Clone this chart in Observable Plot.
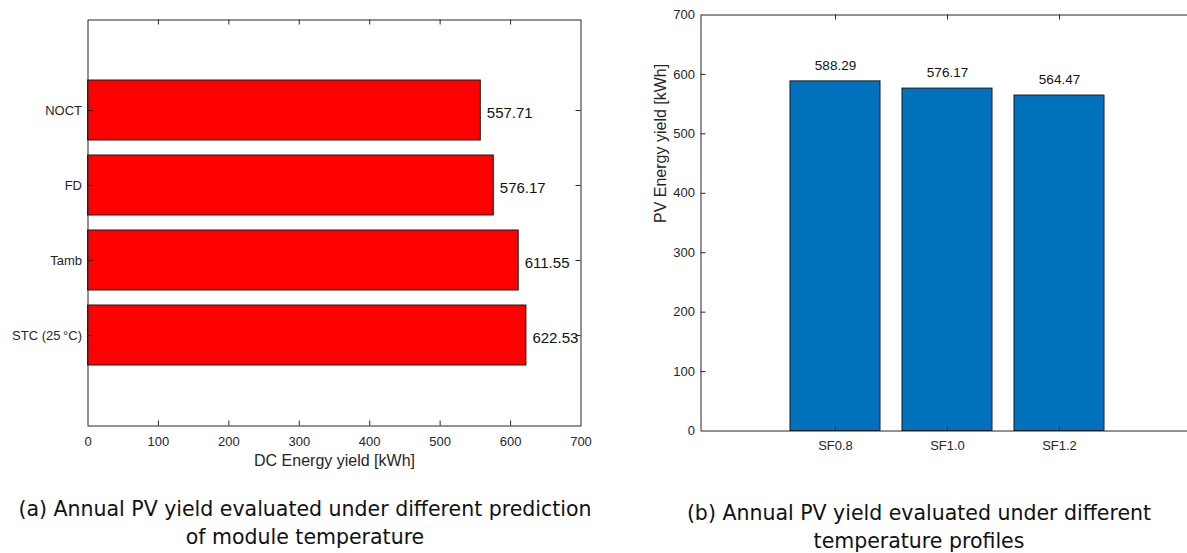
<!DOCTYPE html>
<html><head><meta charset="utf-8">
<script src="https://cdn.jsdelivr.net/npm/d3@7"></script>
<script src="https://cdn.jsdelivr.net/npm/@observablehq/plot@0.6"></script>
<style>
html, body {margin:0; padding:0; background:#fff; overflow:hidden;}
#page {position:relative; width:1187px; height:553px; overflow:hidden; background:#fff;}
#a {position:absolute; left:0; top:0;}
#b {position:absolute; left:600px; top:0; width:587px; height:480px; overflow:hidden;}
.cap {position:absolute; font-family:"DejaVu Sans", sans-serif; font-size:20.5px; line-height:28px; color:#111; text-align:center; white-space:nowrap;}
</style></head><body>
<div id="page">
  <div id="a"></div>
  <div id="b"></div>
  <div class="cap" id="capA" style="left:0;top:495px;width:610px;"></div>
  <div class="cap" id="capB" style="left:619px;top:499px;width:600px;"></div>
</div>
<script>
// ---- data (a) ----
const tempModels = ["NOCT", "FD", "Tamb", "STC (25\u2009\u00B0C)"];
const dcYield = [557.71, 576.17, 611.55, 622.53];
const xTicksA = [0, 100, 200, 300, 400, 500, 600, 700];
const xLabelA = "DC Energy yield [kWh]";
// ---- data (b) ----
const profiles = ["SF0.8", "SF1.0", "SF1.2"];
const pvYield = [588.29, 576.17, 564.47];
const yTicksB = [0, 100, 200, 300, 400, 500, 600, 700];
const yLabelB = "PV Energy yield [kWh]";
// ---- captions ----
const captionA = ["(a) Annual PV yield evaluated under different prediction", "of module temperature"];
const captionB = ["(b) Annual PV yield evaluated under different", "temperature profiles"];

const ink = "#262626";
const font = "'Liberation Sans', Arial, Helvetica, sans-serif";

// ---------- chart (a) ----------
const dataA = tempModels.map((c, i) => ({c, v: dcYield[i]}));
const wA = 600, hA = 480, mlA = 87.5, mrA = 19.5, mtA = 19.5, mbA = 54.5;
const fwA = wA - mlA - mrA, fhA = hA - mtA - mbA;
const plotA = Plot.plot({
  width: wA, height: hA,
  marginLeft: mlA, marginRight: mrA, marginTop: mtA, marginBottom: mbA,
  style: {fontFamily: font, fontSize: "13px", color: ink, background: "transparent", maxWidth: "none", overflow: "visible"},
  x: {domain: [0, 700], label: null},
  y: {domain: tempModels, paddingInner: 0.2, paddingOuter: 0.8, label: null},
  marks: [
    Plot.barX(dataA, {x: "v", y: "c", fill: "#ff0000", stroke: "#1a1a1a", strokeWidth: 1}),
    Plot.text(dataA, {x: "v", y: "c", text: d => d.v.toFixed(2), textAnchor: "start", dx: 6, dy: 3, fontSize: 15, fill: "#111"}),
    Plot.frame({stroke: ink, strokeWidth: 1}),
    Plot.ruleX(xTicksA.slice(1, -1), {x: d => d, insetTop: fhA - 5, stroke: ink}),
    Plot.ruleX(xTicksA.slice(1, -1), {x: d => d, insetBottom: fhA - 5, stroke: ink}),
    Plot.ruleY(tempModels, {y: d => d, insetRight: fwA - 5, stroke: ink}),
    Plot.ruleY(tempModels, {y: d => d, insetLeft: fwA - 5, stroke: ink}),
    Plot.axisX({ticks: xTicksA, tickSize: 0, tickPadding: 11, label: null, fontSize: 13}),
    Plot.axisY({tickSize: 0, tickPadding: 6, label: null, fontSize: 13}),
    Plot.text([xLabelA], {frameAnchor: "bottom", text: d => d, lineAnchor: "top", dy: 29, fontSize: 16})
  ]
});
document.getElementById("a").appendChild(plotA);

// ---------- chart (b) ----------
const dataB = profiles.map((c, i) => ({c, v: pvYield[i]}));
const wB = 614, hB = 480, mlB = 100.5, mrB = 20.5, mtB = 14.5, mbB = 49.5;
const fwB = wB - mlB - mrB, fhB = hB - mtB - mbB;
const plotB = Plot.plot({
  width: wB, height: hB,
  marginLeft: mlB, marginRight: mrB, marginTop: mtB, marginBottom: mbB,
  style: {fontFamily: font, fontSize: "13px", color: ink, background: "transparent", maxWidth: "none", overflow: "visible"},
  x: {domain: profiles, paddingInner: 0.2, paddingOuter: 0.8, label: null},
  y: {domain: [0, 700], label: null},
  marks: [
    Plot.barY(dataB, {x: "c", y: "v", fill: "#0072BD", stroke: "#1a1a1a", strokeWidth: 1}),
    Plot.text(dataB, {x: "c", y: "v", text: d => d.v.toFixed(2), dy: -16, fontSize: 13.5, fill: "#111"}),
    Plot.frame({stroke: ink, strokeWidth: 1}),
    Plot.ruleY(yTicksB.slice(1, -1), {y: d => d, insetRight: fwB - 5, stroke: ink}),
    Plot.ruleX(profiles, {x: d => d, insetTop: fhB - 5, stroke: ink}),
    Plot.ruleX(profiles, {x: d => d, insetBottom: fhB - 5, stroke: ink}),
    Plot.axisY({ticks: yTicksB, tickSize: 0, tickPadding: 6, label: null, fontSize: 13}),
    Plot.axisX({tickSize: 0, tickPadding: 10, label: null, fontSize: 13}),
    Plot.text([yLabelB], {frameAnchor: "left", text: d => d, rotate: -90, dx: -40, fontSize: 16})
  ]
});
document.getElementById("b").appendChild(plotB);

// ---------- captions ----------
function setCap(id, lines) {
  const el = document.getElementById(id);
  lines.forEach((t, i) => {
    if (i) el.appendChild(document.createElement("br"));
    el.appendChild(document.createTextNode(t));
  });
}
setCap("capA", captionA);
setCap("capB", captionB);
</script>
</body></html>
